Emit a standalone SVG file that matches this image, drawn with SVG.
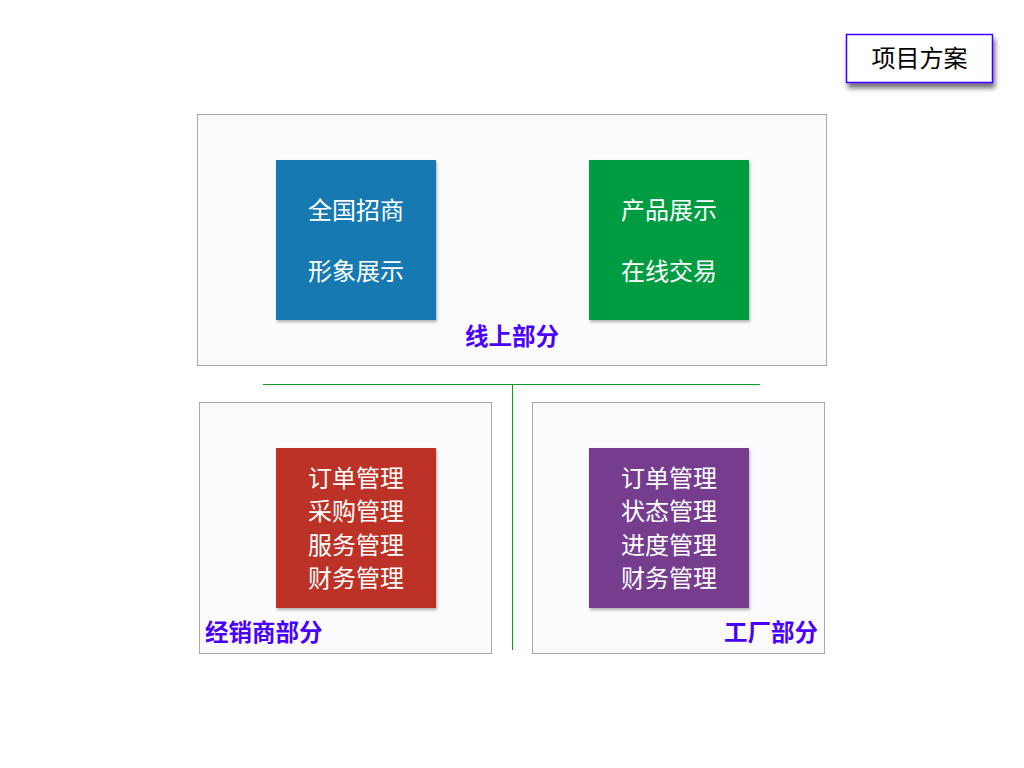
<svg xmlns="http://www.w3.org/2000/svg" width="1024" height="768" viewBox="0 0 1024 768">
<defs>
<filter id="sh" x="-20%" y="-20%" width="140%" height="150%">
<feDropShadow dx="1" dy="2" stdDeviation="1.5" flood-color="#000" flood-opacity="0.3"/>
</filter>
<filter id="bsh" x="-20%" y="-30%" width="140%" height="180%">
<feDropShadow dx="2" dy="5" stdDeviation="2.5" flood-color="#000" flood-opacity="0.55"/>
</filter>
<style>
.panel{fill:#fbfbfe;stroke:#a8a8ac;stroke-width:1}
.sq{filter:url(#sh)}
.wt{font-family:"Noto Sans CJK SC","Noto Sans",sans-serif;font-size:24px;fill:#fff;text-anchor:middle}
.lbl{font-family:"Noto Sans CJK SC","Noto Sans",sans-serif;font-size:23.5px;font-weight:bold;fill:#4a00ff}
.conn{stroke:#0a9a2a;stroke-width:1;fill:none}
</style>
</defs>
<rect width="1024" height="768" fill="#fff"/>
<g id="connectors">
<line class="conn" x1="263" y1="384.5" x2="760" y2="384.5"/>
<line class="conn" x1="512.5" y1="384" x2="512.5" y2="650"/>
</g>
<g id="online">
<rect class="panel" x="197.5" y="114.5" width="629" height="251"/>
<text class="lbl" x="512" y="345" text-anchor="middle">线上部分</text>
</g>
<g id="dealer">
<rect class="panel" x="199.5" y="402.5" width="292" height="251"/>
<text class="lbl" x="205" y="641">经销商部分</text>
</g>
<g id="factory">
<rect class="panel" x="532.5" y="402.5" width="292" height="251"/>
<text class="lbl" x="818" y="641" text-anchor="end">工厂部分</text>
</g>
<g id="node-blue">
<rect class="sq" x="276" y="160" width="160" height="160" fill="#1879b1"/>
<text class="wt" x="356" y="219">全国招商</text>
<text class="wt" x="356" y="280">形象展示</text>
</g>
<g id="node-green">
<rect class="sq" x="589" y="160" width="160" height="160" fill="#029c42"/>
<text class="wt" x="669" y="219">产品展示</text>
<text class="wt" x="669" y="280">在线交易</text>
</g>
<g id="node-red">
<rect class="sq" x="276" y="448" width="160" height="160" fill="#bc3126"/>
<text class="wt" x="356" y="487">订单管理</text>
<text class="wt" x="356" y="520">采购管理</text>
<text class="wt" x="356" y="554">服务管理</text>
<text class="wt" x="356" y="587">财务管理</text>
</g>
<g id="node-purple">
<rect class="sq" x="589" y="448" width="160" height="160" fill="#763c8f"/>
<text class="wt" x="669" y="487">订单管理</text>
<text class="wt" x="669" y="520">状态管理</text>
<text class="wt" x="669" y="554">进度管理</text>
<text class="wt" x="669" y="587">财务管理</text>
</g>
<g id="title">
<rect x="846.5" y="34.5" width="146" height="48" fill="#fff" stroke="#3a00ff" stroke-width="1.5" filter="url(#bsh)"/>
<text x="919.5" y="67" text-anchor="middle" font-family="'Noto Sans CJK SC','Noto Sans',sans-serif" font-size="24" fill="#000">项目方案</text>
</g>
</svg>
